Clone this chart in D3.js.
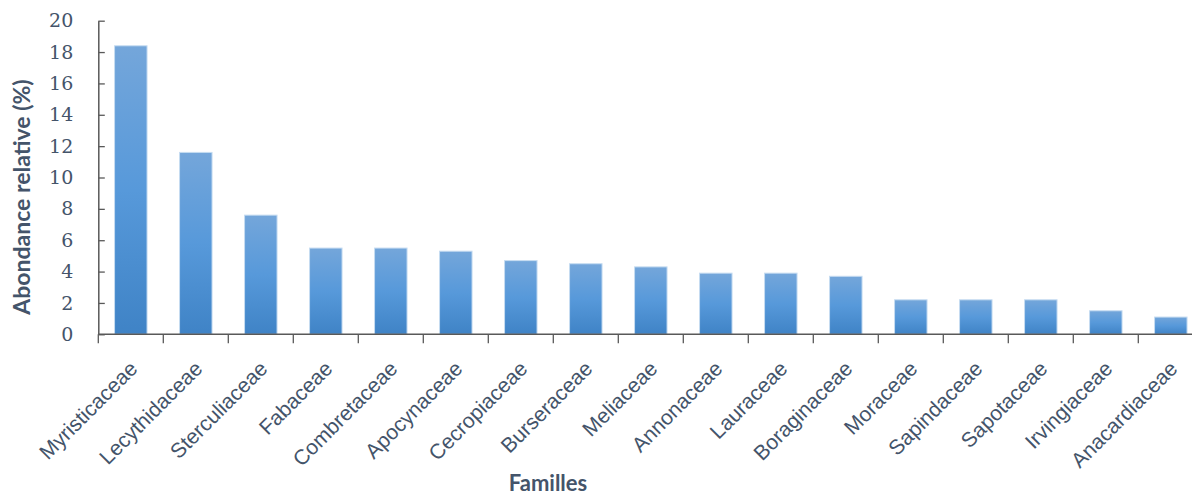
<!DOCTYPE html>
<html>
<head>
<meta charset="utf-8">
<script src="https://cdn.jsdelivr.net/npm/d3@7"></script>
<style>
  html, body { margin: 0; padding: 0; background: #ffffff; }
  svg { display: block; }
</style>
</head>
<body>
<svg id="chart" width="1192" height="496"></svg>
<script>
// Families and their relative abundance (%)
const families = [
  "Myristicaceae", "Lecythidaceae", "Sterculiaceae", "Fabaceae", "Combretaceae",
  "Apocynaceae", "Cecropiaceae", "Burseraceae", "Meliaceae", "Annonaceae",
  "Lauraceae", "Boraginaceae", "Moraceae", "Sapindaceae", "Sapotaceae",
  "Irvingiaceae", "Anacardiaceae"
];
const abundance = [18.4, 11.6, 7.6, 5.5, 5.5, 5.3, 4.7, 4.5, 4.3, 3.9, 3.9, 3.7, 2.2, 2.2, 2.2, 1.5, 1.1];
const yTicks = [0, 2, 4, 6, 8, 10, 12, 14, 16, 18, 20];
const yTitle = "Abondance relative (%)";
const xTitle = "Familles";

const textColor = "#44546a";
const axisColor = "#595959";

const svg = d3.select("#chart");

const x = d3.scaleBand()
  .domain(families)
  .range([98.3, 1203.3])
  .paddingInner(0.5)
  .paddingOuter(0.25);

const y = d3.scaleLinear()
  .domain([0, 20])
  .range([334.3, 20.7]);

// Bar gradient: lighter at the top, deeper blue at the base
const defs = svg.append("defs");
const grad = defs.append("linearGradient")
  .attr("id", "barFill")
  .attr("x1", 0).attr("y1", 0).attr("x2", 0).attr("y2", 1);
grad.append("stop").attr("offset", "0%").attr("stop-color", "#74a6da");
grad.append("stop").attr("offset", "50%").attr("stop-color", "#5799da");
grad.append("stop").attr("offset", "100%").attr("stop-color", "#3f83c6");

// Bars
svg.append("g")
  .selectAll("rect")
  .data(families.map((f, i) => ({ family: f, value: abundance[i] })))
  .join("rect")
  .attr("x", d => x(d.family))
  .attr("y", d => y(d.value))
  .attr("width", x.bandwidth())
  .attr("height", d => y(0) - y(d.value))
  .attr("fill", "url(#barFill)")
  .attr("stroke", "#c6dcf1")
  .attr("stroke-width", 1);

// Y axis with inward ticks
const yAxis = svg.append("g")
  .attr("transform", `translate(${x.range()[0]},0)`)
  .call(d3.axisLeft(y).tickValues(yTicks).tickSize(-6.5).tickSizeOuter(0).tickPadding(25));
yAxis.select(".domain").attr("stroke", axisColor).attr("stroke-width", 1.5);
yAxis.selectAll(".tick line").attr("stroke", axisColor).attr("stroke-width", 1.3);
yAxis.selectAll(".tick text")
  .attr("fill", textColor)
  .style("font-family", "'DejaVu Serif', serif")
  .style("font-size", "19px");

// X axis: baseline and tick marks at the category boundaries
const step = x.step();
const edge0 = x(families[0]) - step * x.paddingInner() / 2;
const boundaries = families.map(f => x(f) - step * x.paddingInner() / 2).concat([edge0 + step * families.length]);
const xAxis = svg.append("g");
xAxis.append("line")
  .attr("x1", x.range()[0]).attr("x2", x.range()[1])
  .attr("y1", y(0)).attr("y2", y(0))
  .attr("stroke", axisColor).attr("stroke-width", 1.5);
xAxis.selectAll("line.tick")
  .data(boundaries)
  .join("line")
  .attr("class", "tick")
  .attr("x1", d => d).attr("x2", d => d)
  .attr("y1", y(0)).attr("y2", y(0) + 9)
  .attr("stroke", axisColor).attr("stroke-width", 1.3);

// Rotated category labels
xAxis.selectAll("text")
  .data(families)
  .join("text")
  .attr("transform", d => `translate(${x(d) + x.bandwidth() / 2 + 8},370) rotate(-45)`)
  .attr("text-anchor", "end")
  .attr("fill", textColor)
  .style("font-family", "'Liberation Sans', Arial, sans-serif")
  .style("font-size", "21px")
  .text(d => d);

// Axis titles
svg.append("text")
  .attr("transform", "translate(30,197) rotate(-90)")
  .attr("text-anchor", "middle")
  .attr("fill", textColor)
  .style("font-family", "Lato, 'Open Sans', sans-serif")
  .style("font-weight", "bold")
  .style("font-size", "23px")
  .text(yTitle);

svg.append("text")
  .attr("x", 548)
  .attr("y", 491)
  .attr("text-anchor", "middle")
  .attr("fill", textColor)
  .style("font-family", "Lato, 'Open Sans', sans-serif")
  .style("font-weight", "bold")
  .style("font-size", "22px")
  .text(xTitle);
</script>
</body>
</html>
